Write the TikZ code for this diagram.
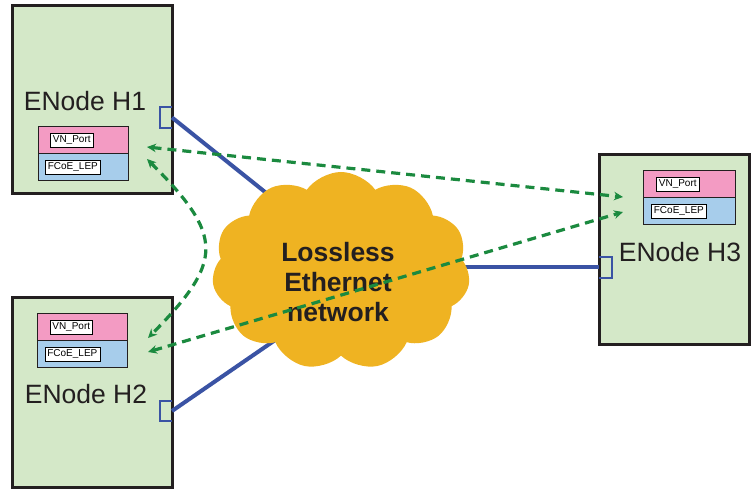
\documentclass[tikz,border=0pt]{standalone}
\usepackage{fontspec}
\setmainfont{Liberation Sans}
\usepackage{tikz}
\usetikzlibrary{shapes.symbols, arrows.meta, positioning}
\definecolor{boxgreen}{HTML}{D4E8C8}
\definecolor{vnpink}{HTML}{F39BC3}
\definecolor{lepblue}{HTML}{A7CDEB}
\definecolor{linkblue}{HTML}{3A53A4}
\definecolor{fcoegreen}{HTML}{1B8A3F}
\definecolor{cloudgold}{HTML}{EFB322}
\definecolor{darkgray}{HTML}{231F20}
\tikzset{
  enode/.style={
    rectangle, draw=darkgray, line width=3pt,
    fill=boxgreen, minimum width=160pt, minimum height=188pt,
  },
  vnlayer/.style={
    rectangle, draw=darkgray, line width=1pt, outer sep=0pt,
    fill=vnpink, minimum width=90pt, minimum height=27pt, inner sep=0pt,
  },
  leplayer/.style={vnlayer, fill=lepblue},
  tag/.style={
    rectangle, draw=black, line width=0.7pt, fill=white,
    inner xsep=2.5pt, inner ysep=0pt, minimum height=14pt,
    font=\fontsize{10}{12}\selectfont,
  },
  title/.style={font=\fontsize{26.5}{30}\selectfont, text=darkgray},
  port/.style={draw=linkblue, line width=2.8pt},
  wire/.style={draw=linkblue, line width=4pt},
  lan/.style={
    cloud, cloud puffs=11, cloud puff arc=110, aspect=1.3,
    fill=cloudgold, draw=none, minimum width=258pt, minimum height=198pt,
  },
  lantext/.style={align=center, font=\fontsize{26.5}{30}\selectfont\bfseries, text=darkgray},
  fcoe/.style={{Stealth[length=9pt,width=8.5pt]}-{Stealth[length=9pt,width=8.5pt]},
    draw=fcoegreen, line width=3.2pt, dash pattern=on 9pt off 6pt},
}

\begin{document}
\begin{tikzpicture}[x=1pt,y=1pt]
  \useasboundingbox (0,0) rectangle (751,490);
  % ENode boxes
  \node[enode] (h1) at (92,390) {};
  \node[enode,minimum height=189pt] (h2) at (92,97.5) {};
  \node[enode,minimum width=150pt,minimum height=189pt] (h3) at (674,240.5) {};
  \node[title] (h1name) at (85,389) {ENode H1};
  \node[title] (h2name) at (86,96) {ENode H2};
  \node[title] (h3name) at (680,238) {ENode H3};
  % VN_Port / FCoE_LEP stacks
  \node[vnlayer] (h1vn) at (83,349.5) {};
  \node[leplayer,below=0pt of h1vn] (h1lep) {};
  \node[vnlayer] (h2vn) at (82.5,163) {};
  \node[leplayer,below=0pt of h2vn] (h2lep) {};
  \node[vnlayer,minimum width=92pt] (h3vn) at (689,306) {};
  \node[leplayer,minimum width=92pt,below=0pt of h3vn] (h3lep) {};
  \node[tag,right=12pt of h1vn.west] (h1vntag) {VN\_Port};
  \node[tag,right=7pt of h1lep.west] (h1leptag) {FCoE\_LEP};
  \node[tag,right=12pt of h2vn.west] (h2vntag) {VN\_Port};
  \node[tag,right=7pt of h2lep.west] (h2leptag) {FCoE\_LEP};
  \node[tag,right=13pt of h3vn.west] (h3vntag) {VN\_Port};
  \node[tag,right=8pt of h3lep.west] (h3leptag) {FCoE\_LEP};
  % ports and links into the network
  \coordinate (h1port) at (172,372.5);
  \coordinate (h2port) at (172,79);
  \coordinate (h3port) at (599,222.5);
  \coordinate (hub1) at (300,270);
  \coordinate (hub2) at (300,167);
  \coordinate (hub3) at (400,222.5);
  \draw[wire] (h1port) -- (hub1);
  \draw[wire] (h2port) -- (hub2);
  \draw[wire] (h3port) -- (hub3);
  \node[lan] (net) at (341,219) {};
  \node[lantext] (netname) at (338,208) {Lossless\\Ethernet\\network};
  \draw[port] ([yshift=10.5pt]h1port) -- ++(-12,0) -- ++(0,-21) -- ++(12,0);
  \draw[port] ([yshift=10pt]h2port) -- ++(-12,0) -- ++(0,-20) -- ++(12,0);
  \draw[port] ([yshift=10.5pt]h3port) -- ++(13,0) -- ++(0,-21) -- ++(-13,0);
  % FCoE virtual links
  \coordinate (h1a) at (147,343);
  \coordinate (h1b) at (147,331);
  \coordinate (h2a) at (148,152);
  \coordinate (h2b) at (148,138);
  \coordinate (h3a) at (623,293);
  \coordinate (h3b) at (623,278);
  \draw[fcoe] (h1a) -- (h3a);
  \draw[fcoe] (h2b) -- (h3b);
  \draw[fcoe] (h1b) .. controls (224,254) and (224,229) .. (h2a);
\end{tikzpicture}
\end{document}
